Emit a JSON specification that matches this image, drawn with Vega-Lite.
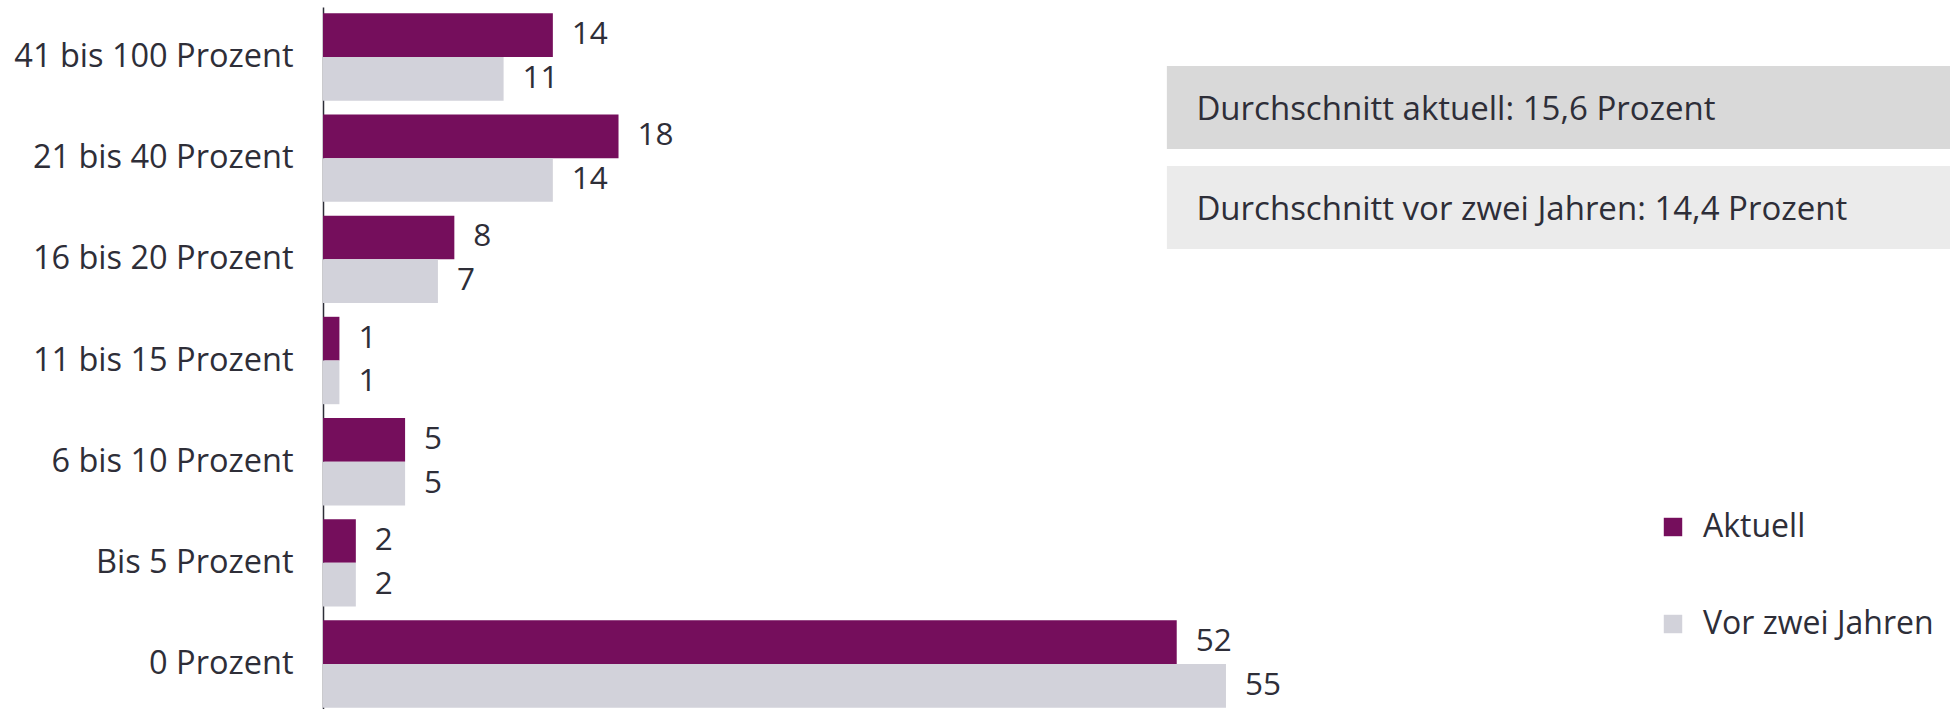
{
  "$schema": "https://vega.github.io/schema/vega-lite/v6.json",
  "autosize": {"type": "none"},
  "padding": {"left": 323, "top": 7, "right": 0, "bottom": 0},
  "width": 1627,
  "height": 702,
  "background": "white",
  "config": {"view": {"stroke": null}, "font": "Open Sans"},
  "datasets": {
    "bars": [
      {"Kategorie": "41 bis 100 Prozent", "Zeitraum": "Aktuell", "Anteil": 14},
      {"Kategorie": "41 bis 100 Prozent", "Zeitraum": "Vor zwei Jahren", "Anteil": 11},
      {"Kategorie": "21 bis 40 Prozent", "Zeitraum": "Aktuell", "Anteil": 18},
      {"Kategorie": "21 bis 40 Prozent", "Zeitraum": "Vor zwei Jahren", "Anteil": 14},
      {"Kategorie": "16 bis 20 Prozent", "Zeitraum": "Aktuell", "Anteil": 8},
      {"Kategorie": "16 bis 20 Prozent", "Zeitraum": "Vor zwei Jahren", "Anteil": 7},
      {"Kategorie": "11 bis 15 Prozent", "Zeitraum": "Aktuell", "Anteil": 1},
      {"Kategorie": "11 bis 15 Prozent", "Zeitraum": "Vor zwei Jahren", "Anteil": 1},
      {"Kategorie": "6 bis 10 Prozent", "Zeitraum": "Aktuell", "Anteil": 5},
      {"Kategorie": "6 bis 10 Prozent", "Zeitraum": "Vor zwei Jahren", "Anteil": 5},
      {"Kategorie": "Bis 5 Prozent", "Zeitraum": "Aktuell", "Anteil": 2},
      {"Kategorie": "Bis 5 Prozent", "Zeitraum": "Vor zwei Jahren", "Anteil": 2},
      {"Kategorie": "0 Prozent", "Zeitraum": "Aktuell", "Anteil": 52},
      {"Kategorie": "0 Prozent", "Zeitraum": "Vor zwei Jahren", "Anteil": 55}
    ],
    "boxes": [
      {"Box": "aktuell", "Text": "Durchschnitt aktuell: 15,6 Prozent"},
      {"Box": "vor zwei Jahren", "Text": "Durchschnitt vor zwei Jahren: 14,4 Prozent"}
    ]
  },
  "layer": [
    {
      "data": {"name": "bars"},
      "encoding": {
        "y": {
          "field": "Kategorie",
          "type": "nominal",
          "sort": ["41 bis 100 Prozent", "21 bis 40 Prozent", "16 bis 20 Prozent", "11 bis 15 Prozent", "6 bis 10 Prozent", "Bis 5 Prozent", "0 Prozent"],
          "scale": {"paddingInner": 0.136, "paddingOuter": 0.0375, "align": 0.83},
          "axis": {
            "title": null,
            "ticks": false,
            "tickSize": 0,
            "labelPadding": 30,
            "labelFontSize": 32.5,
            "labelFont": "Open Sans",
            "labelColor": "#2e2e38",
            "labelLimit": 0,
            "domainColor": "#2e2e38",
            "domainWidth": 1.5,
            "grid": false
          }
        },
        "yOffset": {
          "field": "Zeitraum",
          "type": "nominal",
          "sort": ["Aktuell", "Vor zwei Jahren"],
          "scale": {"paddingInner": 0, "paddingOuter": 0}
        },
        "x": {
          "field": "Anteil",
          "type": "quantitative",
          "scale": {"domain": [0, 99.1], "nice": false, "zero": true},
          "axis": null
        }
      },
      "layer": [
        {
          "mark": {"type": "bar"},
          "encoding": {
            "color": {
              "field": "Zeitraum",
              "type": "nominal",
              "sort": ["Aktuell", "Vor zwei Jahren"],
              "scale": {"domain": ["Aktuell", "Vor zwei Jahren"], "range": ["#750e5c", "#d2d2da"]},
              "legend": {
                "orient": "none",
                "legendX": 1334,
                "legendY": 504,
                "title": null,
                "symbolType": "square",
                "symbolSize": 340,
                "symbolStrokeWidth": 0,
                "symbolOpacity": 1,
                "labelFontSize": 32,
                "labelFont": "Open Sans",
                "labelColor": "#2e2e38",
                "labelOffset": 14,
                "labelLimit": 500,
                "rowPadding": 65,
                "padding": 0
              }
            }
          }
        },
        {
          "mark": {"type": "text", "align": "left", "baseline": "middle", "dx": 19, "fontSize": 31.5, "font": "Open Sans", "color": "#2e2e38"},
          "encoding": {"text": {"field": "Anteil", "type": "quantitative"}}
        }
      ]
    },
    {
      "data": {"name": "boxes"},
      "encoding": {
        "y": {
          "field": "Box",
          "type": "nominal",
          "sort": ["aktuell", "vor zwei Jahren"],
          "scale": {"range": [59, 242], "paddingInner": 0.17, "paddingOuter": 0},
          "axis": null
        }
      },
      "layer": [
        {
          "mark": {"type": "rect"},
          "encoding": {
            "x": {"datum": 51.4, "type": "quantitative"},
            "x2": {"datum": 99.1},
            "fill": {"condition": {"test": "datum.Box === 'aktuell'", "value": "#d9d9d9"}, "value": "#ebebeb"}
          }
        },
        {
          "mark": {"type": "text", "align": "left", "baseline": "middle", "dy": 2.5, "fontSize": 33, "fontWeight": 500, "font": "Open Sans", "color": "#2e2e38"},
          "encoding": {
            "x": {"datum": 53.2, "type": "quantitative"},
            "text": {"field": "Text", "type": "nominal"}
          }
        }
      ]
    }
  ],
  "resolve": {"scale": {"y": "independent"}, "axis": {"y": "independent"}}
}
